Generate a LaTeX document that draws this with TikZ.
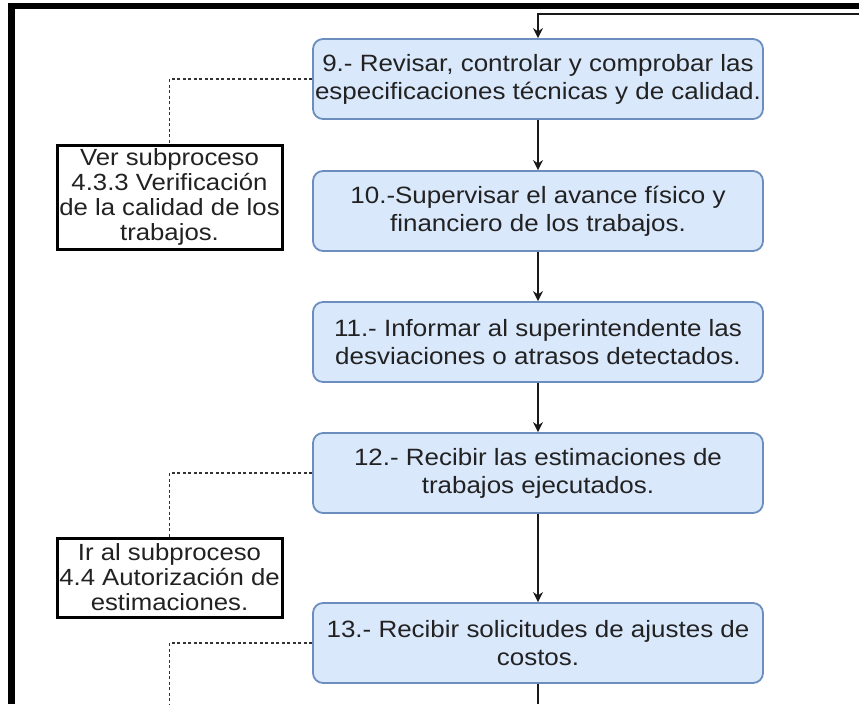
\documentclass[tikz,border=0pt]{standalone}
\usepackage{fontspec}
\setmainfont{Liberation Sans}
\newfontfamily\widefont[FakeStretch=1.1]{Liberation Sans}
\usetikzlibrary{arrows.meta}
\definecolor{procfill}{HTML}{DAE8FC}
\definecolor{procborder}{HTML}{6C8EBF}
\definecolor{txt}{HTML}{222222}
\tikzset{
  proc/.style={draw=procborder, fill=procfill, rounded corners=10pt, line width=1.8pt,
    minimum width=450pt, minimum height=80pt, align=center, inner sep=0pt,
    text=txt, font=\widefont\fontsize{23.6}{28}\selectfont},
  refbox/.style={draw=black, line width=3pt, fill=white, minimum width=225pt,
    align=center, inner sep=0pt, text=txt, font=\widefont\fontsize{23.4}{25}\selectfont},
  flow/.style={-{Stealth[length=10pt,width=10pt]}, line width=1.6pt, draw=black!90},
  link/.style={dash pattern=on 3pt off 2.5pt, line width=1.8pt, draw=black!80},
}
\begin{document}
\begin{tikzpicture}[x=1pt,y=-1pt]
\useasboundingbox (0,0) rectangle (859,704);
\fill[white] (0,0) rectangle (859,704);
\fill[black] (8,3) rectangle (859,9);
\fill[black] (8,3) rectangle (15,704);

\node[proc] (p9)  at (538,79)  {9.- Revisar, controlar y comprobar las\\especificaciones técnicas y de calidad.};
\node[proc] (p10) at (538,211) {10.-Supervisar el avance físico y\\financiero de los trabajos.};
\node[proc] (p11) at (538,342) {11.- Informar al superintendente las\\desviaciones o atrasos detectados.};
\node[proc] (p12) at (538,473) {12.- Recibir las estimaciones de\\trabajos ejecutados.};
\node[proc] (p13) at (538,643) {13.- Recibir solicitudes de ajustes de\\costos.};

\node[refbox, minimum height=104pt] (ra) at (169.5,197) {Ver subproceso\\4.3.3 Verificación\\de la calidad de los\\trabajos.};
\node[refbox, minimum height=79pt] (rb) at (169.5,577.5) {Ir al subproceso\\4.4 Autorización de\\estimaciones.};

\coordinate (tr) at (859,14);
\coordinate (bl) at (169.5,704);

\draw[flow] (tr) -| (p9.north);
\draw[flow] (p9) -- (p10);
\draw[flow] (p10) -- (p11);
\draw[flow] (p11) -- (p12);
\draw[flow] (p12) -- (p13);
\draw[flow, -] (p13.south) -- (p13.south |- bl);

\draw[link] (p9.west) -| (ra.north);
\draw[link] (p12.west) -| (rb.north);
\draw[link] (p13.west) -| (bl);
\end{tikzpicture}
\end{document}
